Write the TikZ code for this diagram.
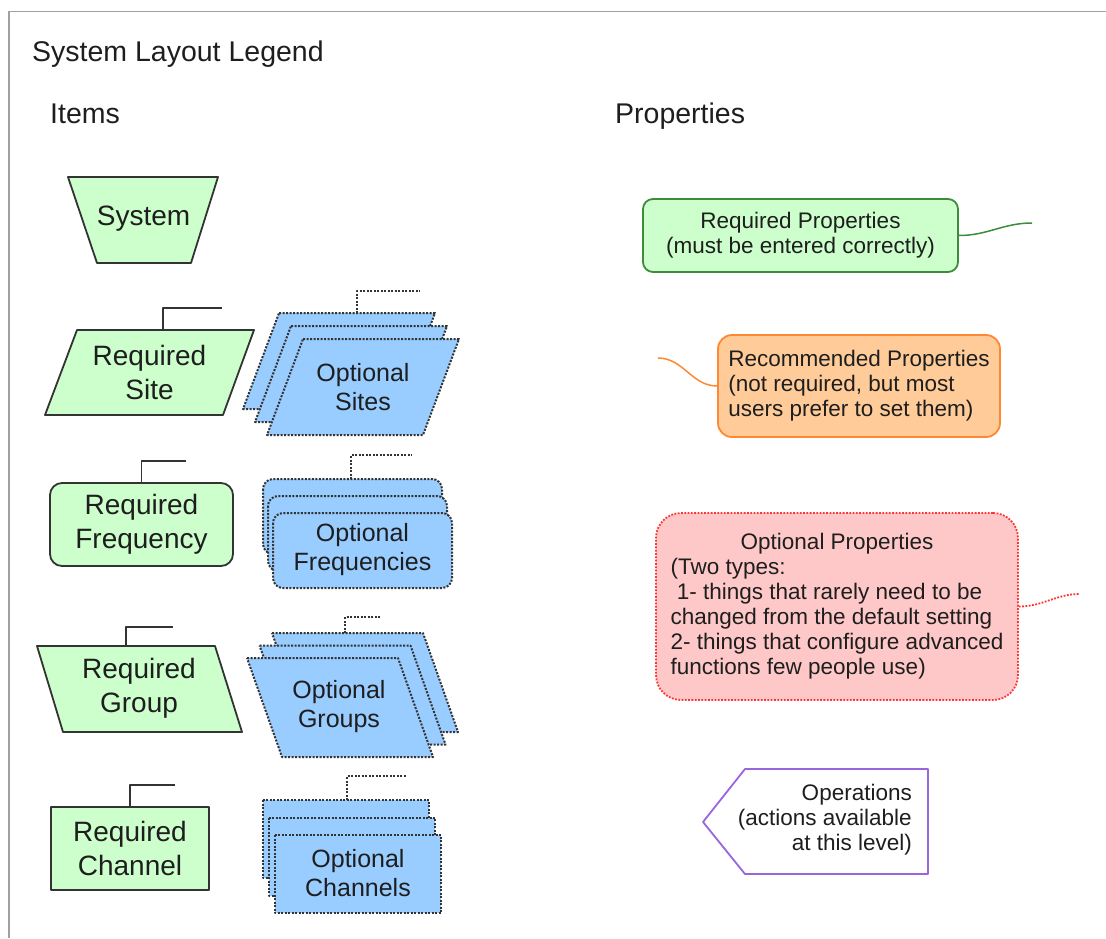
\documentclass[tikz,border=0pt]{standalone}
\usepackage{fontspec}
\setmainfont{Liberation Sans}
\definecolor{itemline}{HTML}{333333}
\definecolor{txt}{HTML}{1E1E1E}
\definecolor{reqgreen}{HTML}{CCFFCC}
\definecolor{optblue}{HTML}{99CCFF}
\definecolor{reqline}{HTML}{3C8C3C}
\definecolor{recfill}{HTML}{FFCC99}
\definecolor{recline}{HTML}{FF8833}
\definecolor{optfill}{HTML}{FFC8C8}
\definecolor{optline}{HTML}{FF3333}
\definecolor{opsline}{HTML}{9966DD}
\definecolor{framegray}{HTML}{A0A0A0}
\begin{document}
\begin{tikzpicture}[x=1pt,y=-1pt,line join=round,
    reqitem/.style={draw=itemline,fill=reqgreen,line width=1.8pt},
    optsheet/.style={draw=itemline,fill=optblue,line width=2pt,dash pattern=on 2pt off 1.5pt},
    stub/.style={draw=itemline,line width=1.8pt},
    optstub/.style={stub,line width=2pt,dash pattern=on 2pt off 1.5pt},
    itemtext/.style={text=txt,align=center,inner sep=0pt,font=\fontsize{28}{34}\selectfont},
    opttext/.style={itemtext,font=\fontsize{25}{29}\selectfont},
    proptext/.style={text=txt,inner sep=0pt,font=\fontsize{22.5}{25}\selectfont},
    heading/.style={text=txt,inner sep=0pt,anchor=base west,font=\fontsize{28.5}{34}\selectfont}]
    \useasboundingbox (0,0) rectangle (1106,938);
    \draw[framegray,line width=1.5pt] (9,938) -- (9,11.5) -- (1106,11.5);

    \node[heading] (title) at (32,61) {System Layout Legend};
    \node[heading] (items) at (50,123) {Items};
    \node[heading] (props) at (615,123) {Properties};

    % items
    \draw[reqitem] (68,177) -- (218,177) -- (191,263) -- (97,263) -- cycle;
    \node[itemtext] (system) at (143.5,219) {System};

    \draw[reqitem] (77,330) -- (254,330) -- (223,415) -- (45,415) -- cycle;
    \node[itemtext] (reqsite) at (149.5,372) {Required\\Site};
    \coordinate (reqsitetop) at (163,330);
    \coordinate (reqsiteend) at (222,308);
    \draw[stub] (reqsitetop) |- (reqsiteend);

    \foreach \d in {2,1,0}{%
        \draw[optsheet,shift={(-12*\d,-13*\d)}] (303,339) -- (459,339) -- (423,435) -- (267,435) -- cycle;
    }%
    \node[opttext] (optsite) at (363,387) {Optional\\Sites};
    \coordinate (optsitetop) at (357,313);
    \coordinate (optsiteend) at (420,291);
    \draw[optstub] (optsitetop) |- (optsiteend);

    \node[reqitem,itemtext,rounded corners=12pt,minimum width=183pt,minimum height=83pt] (reqfreq) at (141.5,524.5) {Required\\Frequency};
    \coordinate (reqfreqend) at (186,461);
    \draw[stub] (reqfreq.north) |- (reqfreqend);

    \foreach \d in {2,1,0}{%
        \draw[optsheet,rounded corners=10pt,shift={(-5*\d,-17*\d)}] (273,513) rectangle (452,588);
    }%
    \node[opttext] (optfreq) at (362.5,550) {Optional\\Frequencies};
    \coordinate (optfreqtop) at (351,479);
    \coordinate (optfreqend) at (412,455);
    \draw[optstub] (optfreqtop) |- (optfreqend);

    \draw[reqitem] (37,646) -- (215,646) -- (242,732) -- (63,732) -- cycle;
    \node[itemtext] (reqgroup) at (139,688) {Required\\Group};
    \coordinate (reqgrouptop) at (126,646);
    \coordinate (reqgroupend) at (173,627);
    \draw[stub] (reqgrouptop) |- (reqgroupend);

    \foreach \d in {2,1,0}{%
        \draw[optsheet,shift={(12.5*\d,-12.5*\d)}] (247,658) -- (398,658) -- (433,757) -- (282,757) -- cycle;
    }%
    \node[opttext] (optgroup) at (339,707) {Optional\\Groups};
    \coordinate (optgrouptop) at (345,633);
    \coordinate (optgroupend) at (380,617);
    \draw[optstub] (optgrouptop) |- (optgroupend);

    \node[reqitem,itemtext,minimum width=158pt,minimum height=83pt] (reqchan) at (130,848.5) {Required\\Channel};
    \coordinate (reqchanend) at (175,785);
    \draw[stub] (reqchan.north) |- (reqchanend);

    \foreach \d in {2,1,0}{%
        \draw[optsheet,shift={(-6*\d,-17.5*\d)}] (275,835) rectangle (441,913);
    }%
    \node[opttext] (optchan) at (358,873) {Optional\\Channels};
    \coordinate (optchantop) at (347,800);
    \coordinate (optchanend) at (407,776);
    \draw[optstub] (optchantop) |- (optchanend);

    % properties
    \node[proptext,draw=reqline,fill=reqgreen,line width=1.8pt,rounded corners=10pt,minimum width=315pt,minimum height=73pt] (reqprop) at (800.5,235.5)
        {\begin{tabular}{@{}c@{}}Required Properties\\(must be entered correctly)\end{tabular}};
    \coordinate (reqproptail) at (1032,223);
    \draw[reqline,line width=1.5pt] (reqprop.east) to[out=0,in=180] (reqproptail);

    \node[proptext,draw=recline,fill=recfill,line width=1.8pt,rounded corners=14pt,minimum width=282pt,minimum height=102pt] (recprop) at (859,386)
        {\begin{tabular}{@{}l@{}}\multicolumn{1}{@{}c@{}}{Recommended Properties}\\(not required, but most\\users prefer to set them)\end{tabular}};
    \coordinate (recproptail) at (658,358);
    \draw[recline,line width=1.5pt] (recprop.west) to[out=180,in=0] (recproptail);

    \node[proptext,draw=optline,fill=optfill,line width=1.8pt,dash pattern=on 1.8pt off 1.5pt,rounded corners=25pt,minimum width=362pt,minimum height=187pt] (optprop) at (837,606.5)
        {\begin{tabular}{@{}l@{}}\multicolumn{1}{@{}c@{}}{Optional Properties}\\(Two types:\\\ 1- things that rarely need to be\\changed from the default setting\\2- things that configure advanced\\functions few people use)\end{tabular}};
    \coordinate (optproptail) at (1080,594);
    \draw[optline,line width=1.8pt,dash pattern=on 1.8pt off 1.5pt] (optprop.east) to[out=0,in=180] (optproptail);

    \draw[opsline,fill=white,line width=1.8pt] (703,822) -- (745,769) -- (928,769) -- (928,874) -- (745,874) -- cycle;
    \node[proptext,anchor=east] (ops) at (912,820)
        {\begin{tabular}{@{}r@{}}Operations\\(actions available\\at this level)\end{tabular}};
\end{tikzpicture}
\end{document}
